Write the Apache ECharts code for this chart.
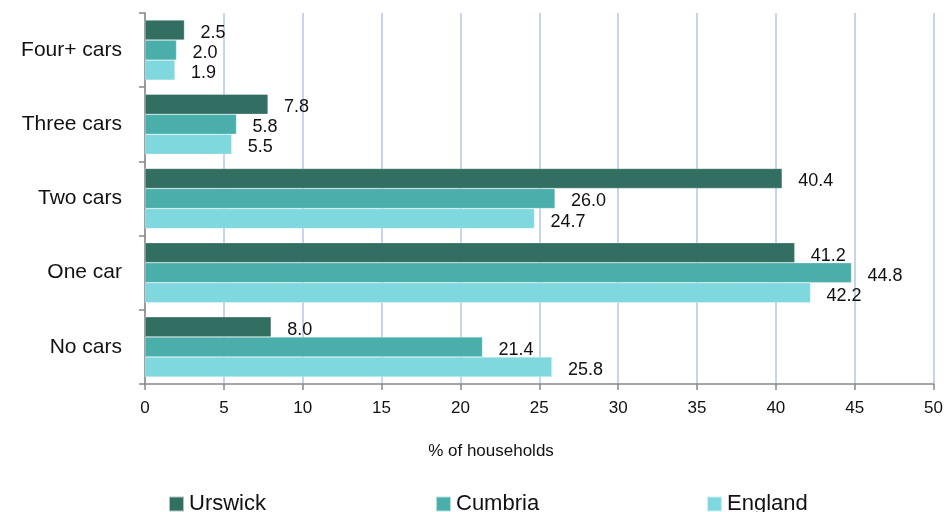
<!DOCTYPE html>
<html>
<head>
<meta charset="utf-8">
<script src="https://cdn.jsdelivr.net/npm/echarts@6/dist/echarts.min.js"></script>
<style>html,body{margin:0;padding:0;background:#fff}#c{width:946px;height:512px}</style>
</head>
<body>
<div id="c"></div>
<script>
const categories = ['No cars', 'One car', 'Two cars', 'Three cars', 'Four+ cars'];
const urswick = [8.0, 41.2, 40.4, 7.8, 2.5];
const cumbria = [21.4, 44.8, 26.0, 5.8, 2.0];
const england = [25.8, 42.2, 24.7, 5.5, 1.9];
const xTicks = [0, 5, 10, 15, 20, 25, 30, 35, 40, 45, 50];

const font = 'Liberation Sans, Arial, sans-serif';
const colors = ['#336e63', '#4aafab', '#7fd8de'];

function mk(name, data, color) {
  return {
    name, type: 'bar', data,
    barGap: '0%', barCategoryGap: '19%',
    itemStyle: { color, borderColor: 'rgba(255,255,255,0.6)', borderWidth: 0.5 },
    label: {
      show: true, position: 'right', distance: 16, offset: [0, 3],
      formatter: p => p.value.toFixed(1),
      fontFamily: font, fontSize: 18, color: '#111'
    }
  };
}

const chart = echarts.init(document.getElementById('c'));
chart.setOption({
  animation: false,
  color: colors,
  grid: { left: 145, right: 9, top: 13, bottom: 128, containLabel: false },
  title: {
    text: '% of households', left: 486, top: 438, textAlign: 'center',
    textStyle: { fontFamily: font, fontSize: 17, fontWeight: 'normal', color: '#111' }
  },
  legend: [
    { data: ['Urswick'], left: 168, top: 493 },
    { data: ['Cumbria'], left: 435, top: 493 },
    { data: ['England'], left: 706, top: 493 }
  ].map(l => Object.assign(l, {
    padding: 0,
    itemWidth: 15, itemHeight: 15, icon: 'rect',
    textStyle: { fontFamily: font, fontSize: 22, color: '#111' }
  })),
  xAxis: {
    type: 'value', min: 0, max: 50, interval: 5,
    axisLine: { show: true, lineStyle: { color: '#888', width: 1.5 } },
    axisTick: { show: true, length: 6, lineStyle: { color: '#888', width: 1.5 } },
    axisLabel: {
      margin: 16, fontFamily: font, fontSize: 17, color: '#111',
      formatter: v => xTicks.includes(v) ? String(v) : ''
    },
    splitLine: { show: true, lineStyle: { color: '#c6d5ea', width: 2 } }
  },
  yAxis: {
    type: 'category', data: categories,
    axisLine: { show: true, lineStyle: { color: '#888', width: 1.5 } },
    axisTick: { show: true, length: 6, lineStyle: { color: '#888', width: 1.5 } },
    axisLabel: { margin: 23, fontFamily: font, fontSize: 21, color: '#111' }
  },
  series: [
    mk('Urswick', urswick, colors[0]),
    mk('Cumbria', cumbria, colors[1]),
    mk('England', england, colors[2])
  ]
});
</script>
</body>
</html>
